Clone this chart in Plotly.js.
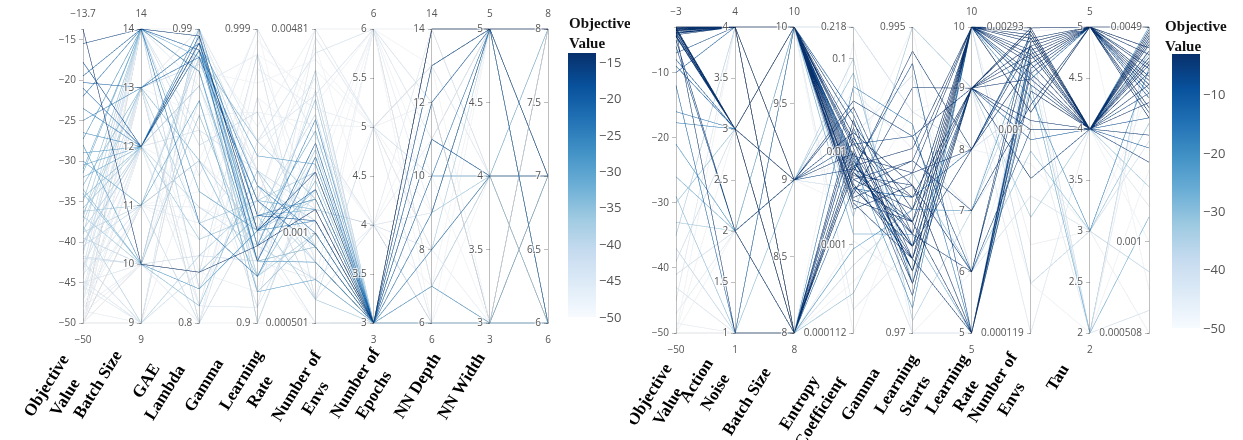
<!DOCTYPE html>
<html><head><meta charset="utf-8">
<script src="https://cdn.plot.ly/plotly-3.0.1.min.js"></script>
<style>html,body{margin:0;padding:0;background:#fff;overflow:hidden}
#left{position:absolute;left:0;top:0;width:630px;height:440px}
#right{position:absolute;left:630px;top:0;width:613px;height:440px}</style>
</head><body>
<div id="left"></div><div id="right"></div>
<script>
// ---------------- LEFT STUDY ----------------
const leftLabels = ['Objective<br>Value','Batch Size','GAE<br>Lambda','Gamma','Learning<br>Rate','Number of<br>Envs','Number of<br>Epochs','NN Depth','NN Width'];
const leftObjective = [-13.7,-15.5,-17.8,-19.5,-20.3,-21.0,-22.0,-23.5,-25.0,-26.5,-27.3,-28.0,-29.0,-30.0,-31.0,-32.0,-33.0,-34.0,-35.0,-35.8,-36.2,-36.8,-37.5,-38.0,-38.5,-39.0,-39.5,-40.0,-40.5,-41.0,-41.5,-42.0,-42.5,-43.0,-43.5,-44.0,-44.5,-45.0,-45.5,-46.0,-46.5,-47.0,-47.5,-48.0,-48.5,-49.0,-49.5,-50,-50,-50,-50,-50,-50,-50,-50,-50,
  -30.5,-31.5,-33.5,-34.5,-36.5,-37.0,-38.8,-40.2,-41.8,-43.2,-44.8,-45.8,-46.8,-47.8,-48.8,-50,-50,-50,-50,-50];
const leftBatchSize = [10,14,12,14,13,12,14,12,13,12,14,10,12,11,14,12,13,10,14,12,11,10,13,9,12,14,10,12,11,13,14,10,9,12,13,11,14,10,9,12,13,11,14,10,9,12,13,9,14,11,10,12,13,9,14,11,
  12,14,10,12,13,14,11,12,10,14,9,13,12,11,10,12,14,13,10,11];
const leftGaeLambda = [0.83,0.985,0.98,0.975,0.97,0.985,0.86,0.975,0.98,0.99,0.96,0.82,0.98,0.94,0.88,0.975,0.9,0.81,0.985,0.85,0.97,0.93,0.98,0.84,0.95,0.82,0.99,0.87,0.8,0.965,0.91,0.985,0.83,0.92,0.8,0.975,0.89,0.94,0.97,0.81,0.99,0.86,0.95,0.8,0.9,0.98,0.83,0.8,0.96,0.88,0.99,0.82,0.93,0.97,0.85,0.9,
  0.975,0.97,0.83,0.98,0.86,0.96,0.9,0.985,0.84,0.92,0.99,0.81,0.95,0.87,0.93,0.89,0.99,0.8,0.96,0.85];
const leftGamma = [0.925,0.93,0.935,0.92,0.94,0.93,0.915,0.945,0.925,0.935,0.92,0.93,0.955,0.91,0.93,0.94,0.915,0.95,0.925,0.935,0.96,0.92,0.91,0.94,0.93,0.945,0.9,0.925,0.935,0.95,0.97,0.92,0.99,0.905,0.96,0.93,0.999,0.915,0.94,0.975,0.9,0.955,0.92,0.985,0.935,0.965,0.91,0.9,0.98,0.93,0.95,0.99,0.92,0.96,0.94,0.999,
  0.93,0.925,0.935,0.92,0.94,0.915,0.93,0.945,0.92,0.95,0.96,0.905,0.99,0.93,0.97,0.91,0.95,0.975,0.925,0.995];
const leftLearningRate = [0.0012,0.0016,0.0011,0.0020,0.0009,0.0014,0.0018,0.0010,0.0024,0.0013,0.0008,0.0011,0.0017,0.0007,0.0022,0.0012,0.0015,0.0009,0.0028,0.0006,0.0013,0.0019,0.0010,0.0008,0.0035,0.0011,0.0016,0.0007,0.0025,0.0012,0.0009,0.0030,0.0006,0.0014,0.0040,0.000501,0.0021,0.0011,0.0048,0.0008,0.0017,0.0033,0.0007,0.0026,0.0013,0.00481,0.0010,0.000501,0.0038,0.0019,0.0006,0.0030,0.0009,0.0015,0.0042,0.0008,
  0.0011,0.0014,0.0012,0.0009,0.0016,0.0010,0.0013,0.0008,0.0018,0.0006,0.0029,0.0045,0.0012,0.0007,0.0023,0.0035,0.0011,0.0020,0.0005,0.0027];
const leftNumEnvs = [3,3,3,3,3,3,3,3,3,3,3,3,3,3,3,3,3,3,3,3,3,3,3,3,3,3,3,3,3,4,3,3,5,3,6,3,4,3,5,3,6,3,4,5,3,6,3,3,5,4,6,3,5,6,4,3,
  3,3,3,3,3,3,3,3,3,4,6,5,4,6,5,5,6,4,3,6];
const leftNumEpochs = [14,14,13,12,11,10,14,9,8,12,7,10,14,13,6,11,6,6,6,9,6,6,8,6,6,6,7,6,6,6,6,6,10,6,12,6,9,6,13,6,7,6,11,8,6,14,6,6,9,12,6,6,13,10,7,6,
  6,6,6,6,6,6,6,6,6,8,11,6,14,9,12,8,13,6,11,7];
const leftNNDepth = [5,5,5,5,4,5,5,5,4,5,3,4,5,5,3,4,3,3,3,4,3,3,5,3,3,3,4,3,3,3,3,3,4,3,3,3,5,3,4,3,3,3,5,3,3,4,3,3,5,3,4,3,5,3,4,3,
  3,3,3,3,3,3,3,3,3,4,5,3,4,5,3,4,3,5,4,5];
const leftNNWidth = [8,8,7,8,7,8,6,8,7,8,6,7,8,6,6,8,6,7,6,6,6,6,7,6,6,6,6,6,6,6,6,6,7,6,8,6,6,6,8,6,7,6,8,6,6,7,6,6,8,7,6,6,8,7,6,6,
  6,6,6,6,6,6,6,6,6,7,6,8,6,7,8,6,8,7,6,8];
const leftObjRange = [-50,-13.7];
const leftBatchRange = [9,14];
const leftGaeTicks = [0.8,0.99];              const leftGaeTickText = ['0.8','0.99'];
const leftGammaTicks = [0.9,0.999];           const leftGammaTickText = ['0.9','0.999'];
const leftLrTicks = [0.000501,0.001,0.00481]; const leftLrTickText = ['0.000501','0.001','0.00481'];
const leftEnvRange = [3,6];
const leftEpochRange = [6,14];
const leftDepthRange = [3,5];
const leftWidthRange = [6,8];

// ---------------- RIGHT STUDY ----------------
const rightLabels = ['Objective<br>Value','Action<br>Noise','Batch Size','Entropy<br>Coefficien','f<br>Gamma','Learning<br>Starts','Learning<br>Rate','Number of<br>Envs','Tau'];
const rightObjective = [-3.0,-3.0,-3.1,-3.1,-3.2,-3.2,-3.3,-3.4,-3.4,-3.5,-3.6,-3.7,-3.8,-4.0,-4.2,-4.5,-5.0,-7.0,-9.0,-10.0,-12.0,-16.0,-3.5,-3.9,-17.7,-21.0,-4.3,-3.6,-26.0,-29.0,
  -30.0,-33.0,-35.0,-37.0,-39.0,-41.0,-43.0,-45.0,-47.0,-48.5,-50,-50,-50,-50,-50,
  -3.0,-3.0,-3.1,-3.2,-3.3,-3.4,-3.5,-3.6,-3.8,-4.0,-4.4,-6.0,-3.2,-3.5,-8.0];
const rightActionNoise = [4,4,4,4,4,4,4,3,4,3,4,1,4,3,4,3,2,4,3,4,1,3,4,4,3,2,3,4,2,1,3,2,4,1,3,2,1,4,2,1,3,1,2,4,1,
  4,4,3,4,4,3,4,4,3,4,3,2,3,4,3];
const rightBatchSize = [10,10,10,10,10,10,10,10,10,8,10,8,10,9,10,10,8,9,10,8,10,8,10,9,10,8,9,8,10,9,8,10,9,8,10,9,8,10,9,8,9,10,8,9,8,
  10,10,10,8,10,8,10,9,10,8,10,9,8,10,10];
const rightEntropy = [0.006,0.012,0.0045,0.009,0.003,0.015,0.007,0.004,0.02,0.01,0.0055,0.008,0.0035,0.03,0.011,0.005,0.014,0.0065,0.025,0.004,0.0085,0.05,0.0028,0.016,0.0075,0.0009,0.035,0.006,0.0013,0.07,0.0003,0.002,0.1,0.0006,0.218,0.004,0.015,0.0002,0.045,0.0011,0.008,0.000112,0.15,0.0025,0.0004,
  0.008,0.005,0.013,0.006,0.004,0.018,0.0065,0.0095,0.0032,0.022,0.0042,0.012,0.007,0.0024,0.009];
const rightGamma = [0.978,0.981,0.976,0.983,0.979,0.975,0.985,0.977,0.98,0.974,0.982,0.976,0.99,0.978,0.973,0.984,0.979,0.992,0.977,0.981,0.975,0.987,0.976,0.982,0.972,0.98,0.986,0.993,0.978,0.974,0.983,0.995,0.971,0.98,0.988,0.97,0.991,0.977,0.985,0.974,0.995,0.982,0.97,0.988,0.979,
  0.977,0.98,0.975,0.979,0.984,0.976,0.981,0.978,0.983,0.974,0.979,0.986,0.977,0.982,0.975];
const rightLearningStarts = [10,9,10,10,5,9,10,8,10,9,5,10,9,6,10,7,10,5,9,8,10,5,9,6,10,7,9,8,5,10,6,9,7,10,8,5,6,9,7,10,5,8,6,9,7,
  10,9,10,9,10,5,9,10,8,9,10,6,10,5,9];
const rightLearningRate = [0.0029,0.0024,0.0020,0.0026,0.0015,0.0022,0.0012,0.0027,0.0018,0.0029,0.0021,0.0016,0.0010,0.0025,0.0023,0.0013,0.0028,0.0019,0.0009,0.0026,0.0017,0.0022,0.0011,0.0029,0.0014,0.0024,0.0006,0.0020,0.0016,0.0027,0.0008,0.0004,0.0019,0.0002,0.0013,0.0025,0.0005,0.000119,0.0011,0.0003,0.0021,0.0007,0.0015,0.0002,0.0028,
  0.0025,0.0028,0.0021,0.0017,0.0026,0.0023,0.0029,0.0012,0.0024,0.0020,0.0027,0.0010,0.0022,0.0018,0.0028];
const rightNumEnvs = [5,5,4,5,4,4,5,4,5,4,5,4,4,5,4,5,4,5,4,4,5,4,4,5,3,4,4,5,2,4,3,4,2,3,5,2,3,4,2,3,2,3,4,2,5,
  5,4,5,4,4,5,4,5,4,5,4,4,5,4,4];
const rightTau = [0.0049,0.0042,0.0038,0.0033,0.0046,0.0028,0.0040,0.0035,0.0025,0.0044,0.0031,0.0048,0.0022,0.0037,0.0041,0.0029,0.0045,0.0034,0.0020,0.0047,0.0030,0.0039,0.0043,0.0026,0.0036,0.0049,0.0018,0.0032,0.0012,0.0040,0.0024,0.0015,0.0046,0.0008,0.0027,0.0006,0.0021,0.0013,0.0038,0.000508,0.0017,0.0030,0.0010,0.0044,0.0007,
  0.0036,0.0044,0.0040,0.0032,0.0047,0.0027,0.0039,0.0049,0.0041,0.0034,0.0045,0.0030,0.0042,0.0037,0.0025];
const rightObjRange = [-50,-3];
const rightNoiseRange = [1,4];
const rightBatchRange = [8,10];
const rightEntTicks = [0.000112,0.001,0.01,0.1,0.218]; const rightEntTickText = ['0.000112','0.001','0.01','0.1','0.218'];
const rightGammaTicks = [0.97,0.995];          const rightGammaTickText = ['0.97','0.995'];
const rightLsRange = [5,10];
const rightLrTicks = [0.000119,0.001,0.00293]; const rightLrTickText = ['0.000119','0.001','0.00293'];
const rightEnvRange = [2,5];
const rightTauTicks = [0.000508,0.001,0.0049]; const rightTauTickText = ['0.000508','0.001','0.0049'];

// ---------------- helpers ----------------
const H = 440;
const blues = [[0,'rgb(247,251,255)'],[0.125,'rgb(222,235,247)'],[0.25,'rgb(198,219,239)'],[0.375,'rgb(158,202,225)'],[0.5,'rgb(107,174,214)'],[0.625,'rgb(66,146,198)'],[0.75,'rgb(33,113,181)'],[0.875,'rgb(8,81,156)'],[1,'rgb(8,48,107)']];
const lg = v => Math.log10(v);
function linDim(vals, range){ return {label:'', values: vals, range: range}; }
function logDim(vals, ticks, text){
  return {label:'', values: vals.map(lg), range:[lg(ticks[0]), lg(ticks[ticks.length-1])],
          tickvals: ticks.map(lg), ticktext: text};
}
const tickFont = {family:'Open Sans, sans-serif', size:10, color:'#555'};
const labelFont = {family:'Liberation Serif, Times New Roman, serif', size:17, color:'#000'};

function cbar(W, px, py, lenPx, dtick){
  return {x: px/W, xanchor:'left', y: 1-py/H, yanchor:'top', len: lenPx, lenmode:'pixels',
          thickness:28, thicknessmode:'pixels', xpad:0, ypad:0, outlinewidth:0,
          tickfont:{family:'Open Sans, sans-serif', size:13, color:'#555'}, dtick: dtick, tick0:0};
}
function buildAnnotations(W, offset, labels, pos, titlePos){
  const ann = labels.map((t,i)=>({text:'<b>'+t+'</b>', x:(pos[i][0]-offset)/W, y:1-pos[i][1]/H,
    xref:'paper', yref:'paper', xanchor:'center', yanchor:'middle', showarrow:false,
    textangle:-58, align:'center', font: labelFont}));
  ann.push({text:'<b>Objective<br>Value</b>', x:(titlePos[0]-offset)/W, y:1-titlePos[1]/H,
    xref:'paper', yref:'paper', xanchor:'left', yanchor:'top', showarrow:false, align:'left',
    font:{family:'Liberation Serif, Times New Roman, serif', size:15, color:'#111'}});
  return ann;
}

// ---------- left plot ----------
const WL = 630;
const leftTrace = {
  type:'parcoords',
  domain:{x:[83/WL, 548/WL], y:[1-325/H, 1-27/H]},
  line:{color: leftObjective, colorscale: blues, cmin: leftObjRange[0], cmax: leftObjRange[1],
        showscale:true, colorbar: cbar(WL, 568, 53, 264, 5)},
  labelfont: tickFont, tickfont: tickFont, rangefont: tickFont,
  dimensions:[
    linDim(leftObjective, leftObjRange),
    linDim(leftBatchSize, leftBatchRange),
    logDim(leftGaeLambda, leftGaeTicks, leftGaeTickText),
    logDim(leftGamma, leftGammaTicks, leftGammaTickText),
    logDim(leftLearningRate, leftLrTicks, leftLrTickText),
    linDim(leftNumEnvs, leftEnvRange),
    linDim(leftNumEpochs, leftEpochRange),
    linDim(leftNNDepth, leftDepthRange),
    linDim(leftNNWidth, leftWidthRange)
  ]
};
const leftLabelPos = [[55,391],[97,384],[155,386],[203,385],[250,385],[305,392],[364,388],[417,385],[461,385]];
Plotly.newPlot('left', [leftTrace], {width:WL, height:H, margin:{l:0,r:0,t:0,b:0}, paper_bgcolor:'#fff',
  annotations: buildAnnotations(WL, 0, leftLabels, leftLabelPos, [567,13]), showlegend:false},
  {displayModeBar:false, staticPlot:true});

// ---------- right plot ----------
const WR = 613, OFF = 630;
const rightTrace = {
  type:'parcoords',
  domain:{x:[(676-OFF)/WR, (1150-OFF)/WR], y:[1-335/H, 1-25/H]},
  line:{color: rightObjective, colorscale: blues, cmin: rightObjRange[0], cmax: rightObjRange[1],
        showscale:true, colorbar: cbar(WR, 1172-OFF, 54, 274, 10)},
  labelfont: tickFont, tickfont: tickFont, rangefont: tickFont,
  dimensions:[
    linDim(rightObjective, rightObjRange),
    linDim(rightActionNoise, rightNoiseRange),
    linDim(rightBatchSize, rightBatchRange),
    logDim(rightEntropy, rightEntTicks, rightEntTickText),
    logDim(rightGamma, rightGammaTicks, rightGammaTickText),
    linDim(rightLearningStarts, rightLsRange),
    logDim(rightLearningRate, rightLrTicks, rightLrTickText),
    linDim(rightNumEnvs, rightEnvRange),
    logDim(rightTau, rightTauTicks, rightTauTickText)
  ]
};
const rightLabelPos = [[658,400],[705,386],[746,401],[808,408],[850,388],[905,389],[956,389],[1001,393],[1057,377]];
Plotly.newPlot('right', [rightTrace], {width:WR, height:H, margin:{l:0,r:0,t:0,b:0}, paper_bgcolor:'#fff',
  annotations: buildAnnotations(WR, OFF, rightLabels, rightLabelPos, [1163,16]), showlegend:false},
  {displayModeBar:false, staticPlot:true});
</script>
</body></html>
